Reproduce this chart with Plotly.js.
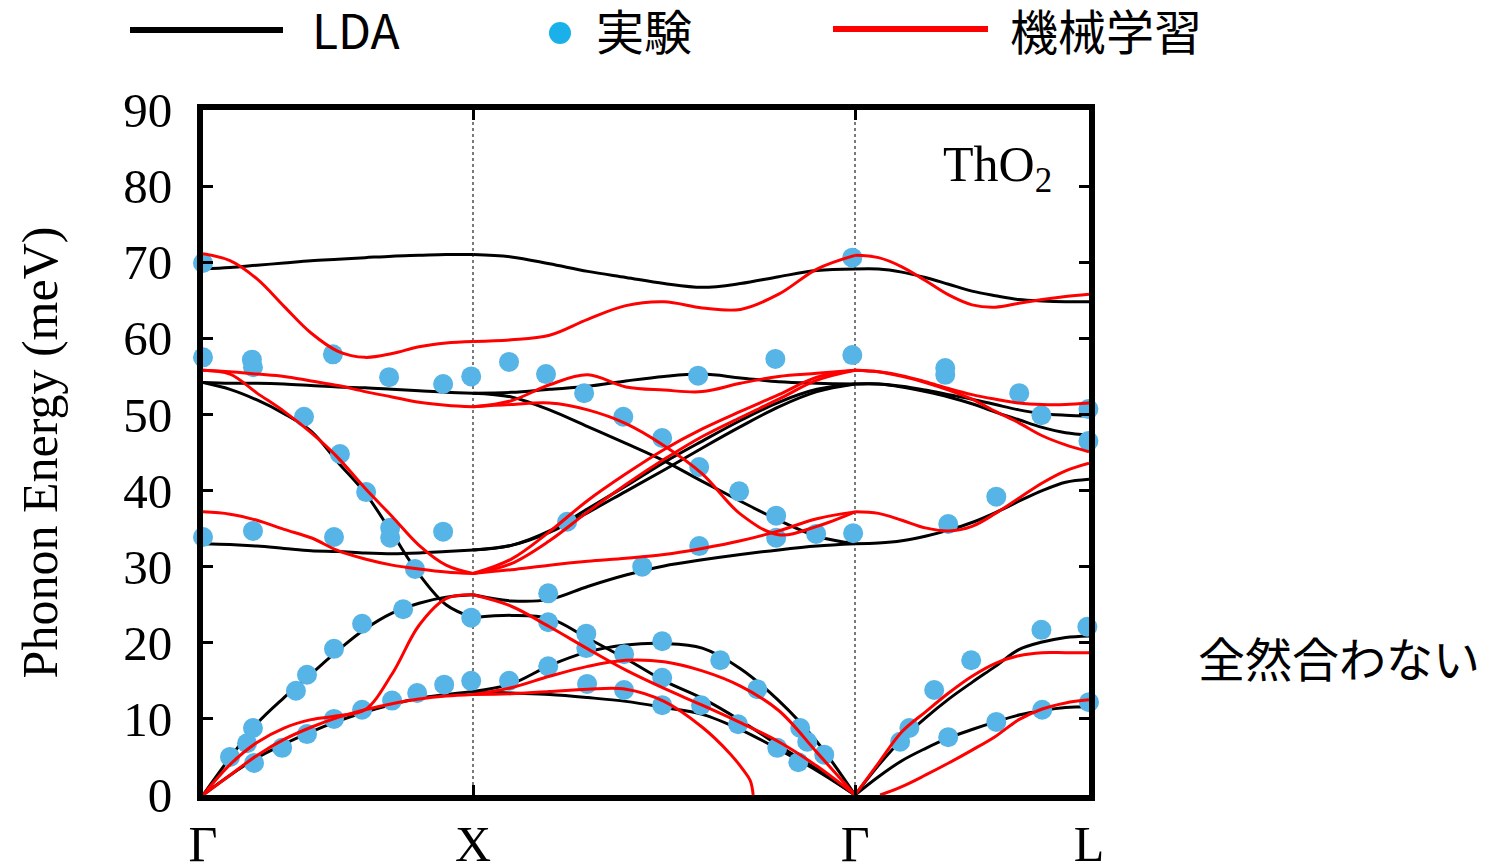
<!DOCTYPE html>
<html>
<head>
<meta charset="utf-8">
<script src="https://cdn.plot.ly/plotly-3.0.1.min.js"></script>
<style>html,body{margin:0;padding:0;background:#fff;}#chart{width:1492px;height:866px;}</style>
</head>
<body>
<div id="chart"></div>
<script>
// High-symmetry path: Γ(0) – X(1) – Γ(1+√2) – L(1+√2+√3/2)
const tickVals = [0, 1, 2.4142, 3.2802];
const tickText = ['Γ', 'X', 'Γ', 'L'];

// wave-vector grids for each path segment
const kGX = [0, 0.1, 0.2, 0.3, 0.4, 0.5, 0.6, 0.7, 0.8, 0.9, 1.0];
const kXG = [1, 1.1414, 1.2828, 1.4243, 1.5657, 1.7071, 1.8485, 1.9899, 2.1314, 2.2728, 2.4142];
const kGL = [2.4142, 2.5008, 2.5874, 2.6740, 2.7606, 2.8472, 2.9338, 3.0204, 3.1070, 3.1936, 3.2802];

// LDA branches (meV)
const ldaGX = [
  [69.1, 69.3, 69.6, 69.9, 70.2, 70.4, 70.6, 70.8, 70.9, 71.0, 71.0],
  [54.2, 54.1, 54.1, 54.0, 53.8, 53.6, 53.5, 53.3, 53.1, 52.9, 52.8],
  [54.2, 53.3, 51.9, 50.1, 47.8, 43.7, 39.7, 34.4, 29.0, 25.0, 23.3],
  [33.0, 32.9, 32.7, 32.4, 32.1, 32.0, 31.8, 31.7, 31.8, 32.0, 32.2],
  [0, 4.9, 9.4, 12.8, 15.9, 19.0, 21.8, 23.9, 25.2, 26.0, 26.3],
  [0, 2.6, 4.9, 6.7, 8.3, 9.7, 10.9, 11.9, 12.7, 13.2, 13.6]
];
const ldaXG = [
  [71.0, 70.7, 69.8, 68.8, 68.0, 67.2, 66.7, 67.2, 68.1, 68.9, 69.1],
  [52.8, 52.9, 53.3, 53.7, 54.4, 55.0, 55.3, 54.8, 54.3, 54.1, 54.0],
  [52.8, 52.3, 50.6, 48.4, 46.2, 43.9, 41.2, 38.6, 36.1, 34.0, 33.0],
  [32.2, 32.8, 34.7, 37.6, 40.6, 43.7, 46.5, 49.2, 51.6, 53.3, 54.0],
  [32.2, 32.8, 34.5, 37.1, 39.9, 42.7, 45.6, 48.4, 51.0, 53.0, 54.0],
  [26.3, 25.5, 25.7, 27.4, 28.9, 30.1, 30.9, 31.6, 32.2, 32.7, 33.0],
  [23.3, 23.6, 23.2, 20.6, 17.9, 15.0, 12.7, 9.8, 6.5, 3.4, 0],
  [13.6, 14.6, 17.0, 18.8, 19.7, 19.9, 19.3, 16.6, 12.4, 7.0, 0],
  [13.6, 13.4, 13.2, 12.8, 12.3, 11.5, 10.6, 8.6, 6.0, 3.2, 0]
];
const ldaGL = [
  [69.1, 69.1, 68.7, 68.0, 67.1, 66.2, 65.6, 65.1, 64.9, 64.8, 64.8],
  [54.0, 54.0, 53.7, 53.2, 52.6, 52.0, 51.3, 50.6, 50.1, 49.9, 49.8],
  [54.0, 54.0, 53.6, 53.0, 52.3, 51.4, 50.3, 49.3, 48.3, 47.6, 47.3],
  [33.0, 33.1, 33.4, 34.0, 34.8, 35.8, 37.1, 38.6, 40.0, 41.1, 41.5],
  [0, 3.9, 7.3, 10.1, 12.6, 14.8, 16.9, 19.1, 20.1, 20.7, 20.9],
  [0, 2.4, 4.5, 6.1, 7.5, 8.6, 9.6, 10.5, 11.1, 11.5, 11.6]
];

// Machine-learning branches (meV)
const mlGX = [
  [71.1, 70.2, 67.8, 64.2, 60.7, 58.3, 57.5, 58.0, 58.9, 59.4, 59.6],
  [55.8, 55.6, 55.3, 55.0, 54.4, 53.8, 53.0, 52.3, 51.6, 51.2, 51.0],
  [55.8, 55.3, 52.8, 50.4, 47.6, 44.3, 40.3, 36.6, 32.8, 30.2, 29.1],
  [37.2, 36.9, 36.1, 34.9, 33.8, 32.1, 31.0, 30.2, 29.7, 29.3, 29.1],
  [0, 4.0, 6.9, 8.8, 9.9, 10.4, 11.2, 15.9, 22.3, 25.8, 26.3],
  [0, 2.6, 5.2, 7.3, 8.9, 10.2, 11.2, 12.0, 12.6, 13.0, 13.2]
];
const mlXG = [
  [59.6, 59.8, 60.4, 62.5, 64.3, 64.8, 64.0, 63.8, 65.8, 69.1, 70.9],
  [51.0, 51.8, 53.9, 55.2, 53.6, 53.2, 53.0, 54.1, 55.0, 55.4, 55.8],
  [51.0, 51.3, 51.5, 50.6, 48.8, 45.9, 42.2, 36.9, 34.2, 35.3, 37.2],
  [29.1, 29.6, 30.2, 30.7, 31.1, 31.6, 32.4, 33.4, 34.7, 36.3, 37.2],
  [29.1, 31.0, 34.6, 38.7, 42.2, 45.4, 48.1, 50.4, 52.6, 54.9, 55.8],
  [29.1, 30.4, 33.4, 37.2, 40.8, 44.1, 47.1, 49.6, 52.0, 54.5, 55.8],
  [26.3, 24.8, 22.1, 19.2, 16.4, 14.0, 11.8, 9.5, 7.0, 3.8, 0],
  [13.2, 14.1, 15.6, 16.9, 17.7, 17.5, 16.3, 14.3, 11.1, 5.6, 0]
];
const kMlDrop = [1, 1.1414, 1.2828, 1.4243, 1.5657, 1.7071, 1.8485, 1.952, 2.0, 2.026, 2.037];
const mlDrop = [13.2, 13.3, 13.6, 13.9, 13.9, 12.3, 8.9, 5.4, 3.3, 1.9, 0];
const mlGL = [
  [70.9, 70.6, 69.4, 67.6, 65.7, 64.4, 64.1, 64.6, 65.1, 65.5, 65.8],
  [55.8, 55.6, 55.1, 54.3, 53.4, 52.6, 52.0, 51.5, 51.3, 51.3, 51.5],
  [55.8, 55.6, 55.0, 54.2, 53.2, 52.0, 50.4, 48.9, 47.2, 46.0, 45.1],
  [37.2, 37.0, 36.1, 35.1, 34.7, 35.3, 37.0, 39.0, 41.0, 42.6, 43.6],
  [0, 4.2, 8.3, 10.9, 13.4, 15.6, 17.3, 18.3, 18.7, 18.7, 18.7]
];
const kMlTA = [2.507, 2.5874, 2.674, 2.7606, 2.8472, 2.9338, 3.0204, 3.107, 3.1936, 3.2802];
const mlTA = [0, 1.1, 2.6, 4.2, 5.9, 7.7, 9.9, 11.3, 12.1, 12.5];

// Experimental points
const expK = [
  0, 0, 0, 0.100, 0.163, 0.185, 0.189, 0.181, 0.185, 0.185,
  0.293, 0.344, 0.385, 0.385, 0.374, 0.481, 0.485, 0.485, 0.485, 0.507,
  0.589, 0.589, 0.604, 0.689, 0.693, 0.693, 0.741, 0.700, 0.785, 0.793,
  0.889, 0.889, 0.893, 0.993, 0.993, 0.993,
  1.133, 1.270, 1.411, 1.556, 1.700, 1.833, 2.119, 2.404, 2.404,
  1.837, 1.985, 2.122, 2.122, 2.270, 2.407, 1.837, 1.626, 1.348,
  1.278, 1.278, 1.278, 1.419, 1.419, 1.422, 1.559, 1.559,
  1.700, 1.700, 1.700, 1.844, 1.915, 2.052, 1.981, 2.126, 2.211, 2.237, 2.204, 2.300, 1.133,
  2.748, 2.748, 3.022, 3.104, 3.278, 3.278, 2.759, 2.937,
  2.581, 2.615, 2.707, 2.844, 2.759, 2.937, 3.104, 3.274, 3.107, 3.280
];
const expE = [
  69.9, 57.5, 33.9, 5.0, 6.8, 8.8, 4.2, 57.2, 56.2, 34.7,
  6.2, 13.7, 15.8, 8.0, 49.7, 57.9, 19.2, 10.0, 33.9, 44.8,
  22.5, 11.2, 39.8, 54.9, 35.1, 33.8, 24.4, 12.4, 29.7, 13.4,
  54.0, 34.6, 14.5, 55.0, 23.3, 15.0,
  56.9, 55.3, 52.8, 49.7, 46.9, 55.1, 57.3, 57.8, 70.6,
  43.1, 39.9, 36.7, 33.8, 34.3, 34.4, 32.7, 30.0, 35.9,
  26.5, 22.7, 16.9, 21.2, 19.3, 14.6, 18.5, 13.8,
  20.2, 15.4, 11.8, 11.8, 17.7, 13.9, 9.3, 6.2, 8.8, 7.0, 4.3, 5.3, 15.0,
  56.1, 55.2, 52.8, 49.9, 50.7, 46.5, 35.6, 39.2,
  7.0, 8.8, 13.8, 17.7, 7.6, 9.6, 21.7, 22.1, 11.2, 12.2
];

const legendNames = ['LDA', '実験', '機械学習'];
const sideNote = '全然合わない';
const materialLabel = 'ThO<sub>2</sub>';

const BLACK = '#000000', RED = '#ff0000', BLUE = '#56b4e6', LEGEND_BLUE = '#1ab0ea';
const traces = [];
function addLines(kArr, sets, color) {
  sets.forEach(E => traces.push({
    x: kArr, y: E, type: 'scatter', mode: 'lines',
    line: {color: color, width: 3, shape: 'spline', smoothing: 1},
    hoverinfo: 'skip', showlegend: false
  }));
}
addLines(kGX, ldaGX, BLACK);
addLines(kXG, ldaXG, BLACK);
addLines(kGL, ldaGL, BLACK);
traces.push({
  x: expK, y: expE, type: 'scatter', mode: 'markers',
  marker: {color: BLUE, size: 20, line: {width: 0}},
  cliponaxis: false, hoverinfo: 'skip', showlegend: false
});
addLines(kGX, mlGX, RED);
addLines(kXG, mlXG, RED);
addLines(kMlDrop, [mlDrop], RED);
addLines(kGL, mlGL, RED);
addLines(kMlTA, [mlTA], RED);

// plot area in px: x 203..1089, y 110..795
const W = 886, H = 685;
const px = v => (v - 203) / W;
const py = v => (795 - v) / H;

const legendFont = {family: 'Noto Sans CJK JP', size: 48, color: '#000'};
const serif = 'Liberation Serif';

const layout = {
  width: 1492, height: 866,
  margin: {l: 203, r: 403, t: 110, b: 71, pad: 0},
  paper_bgcolor: '#fff', plot_bgcolor: '#fff',
  showlegend: false,
  xaxis: {
    range: [0, 3.2802], tickmode: 'array', tickvals: tickVals, ticktext: tickText,
    showgrid: true, gridcolor: '#7a7a7a', gridwidth: 1.5, griddash: 'dot',
    showline: true, linewidth: 6, linecolor: '#000', mirror: 'ticks',
    ticks: 'inside', ticklen: 10, tickwidth: 3, tickcolor: '#000',
    tickfont: {family: serif, size: 50, color: '#000'}, ticklabelstandoff: 0,
    zeroline: false, fixedrange: true
  },
  yaxis: {
    range: [0, 90], tickmode: 'array', tickvals: [0,10,20,30,40,50,60,70,80,90],
    showgrid: false, showline: true, linewidth: 6, linecolor: '#000', mirror: 'ticks',
    ticks: 'inside', ticklen: 10, tickwidth: 3, tickcolor: '#000',
    tickfont: {family: serif, size: 49, color: '#000'}, ticklabelstandoff: 15,
    title: {text: 'Phonon Energy (meV)', font: {family: serif, size: 50, color: '#000'}, standoff: 52},
    zeroline: false, fixedrange: true
  },
  shapes: [
    {type: 'line', xref: 'paper', yref: 'paper', x0: px(130), x1: px(283), y0: py(30), y1: py(30), line: {color: BLACK, width: 6}},
    {type: 'circle', xref: 'paper', yref: 'paper', x0: px(549), x1: px(571), y0: py(44), y1: py(22), fillcolor: LEGEND_BLUE, line: {width: 0}},
    {type: 'line', xref: 'paper', yref: 'paper', x0: px(833), x1: px(988), y0: py(29), y1: py(29), line: {color: RED, width: 6}}
  ],
  annotations: [
    {xref: 'paper', yref: 'paper', x: px(310), y: py(28), xanchor: 'left', yanchor: 'middle', text: legendNames[0], showarrow: false, font: legendFont},
    {xref: 'paper', yref: 'paper', x: px(594), y: py(29), xanchor: 'left', yanchor: 'middle', text: legendNames[1], showarrow: false, font: legendFont},
    {xref: 'paper', yref: 'paper', x: px(1008), y: py(29), xanchor: 'left', yanchor: 'middle', text: legendNames[2], showarrow: false, font: legendFont},
    {xref: 'paper', yref: 'paper', x: px(1196), y: py(656), xanchor: 'left', yanchor: 'middle', text: sideNote, showarrow: false, font: {family: 'Noto Sans CJK JP', size: 47, color: '#000'}},
    {xref: 'paper', yref: 'paper', x: px(1054), y: py(134), xanchor: 'right', yanchor: 'top', text: materialLabel, showarrow: false, font: {family: serif, size: 50, color: '#000'}}
  ]
};

Plotly.newPlot('chart', traces, layout, {staticPlot: true, displayModeBar: false});
</script>
</body>
</html>
